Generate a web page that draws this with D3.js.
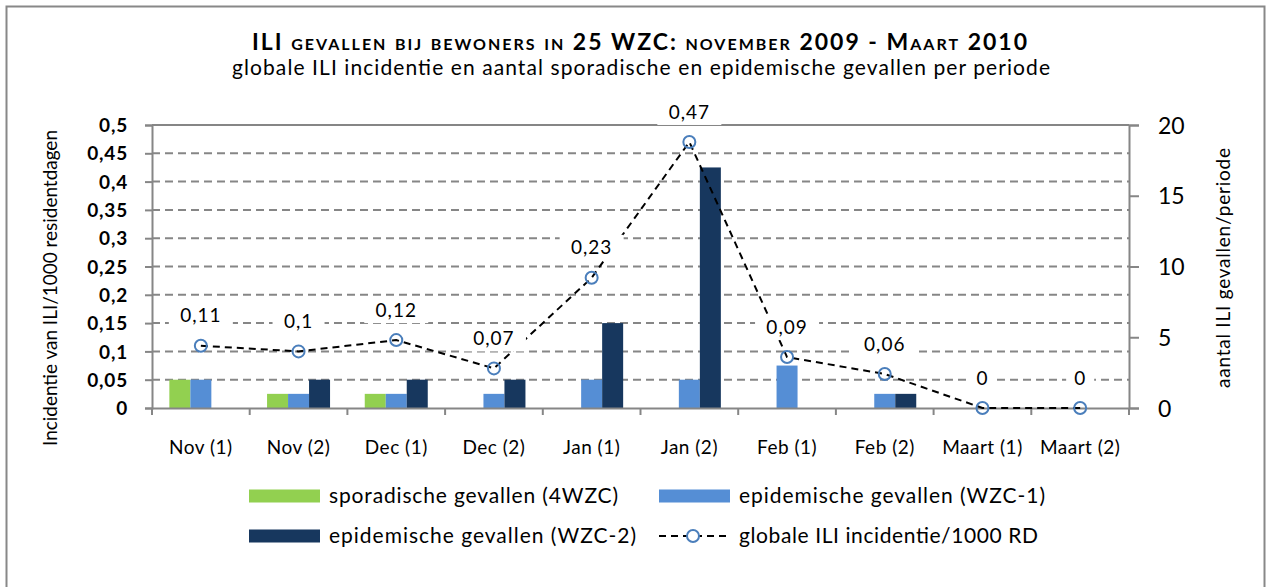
<!DOCTYPE html>
<html>
<head>
<meta charset="utf-8">
<script src="https://cdn.jsdelivr.net/npm/d3@7"></script>
<style>
  body { margin: 0; background: #fff; }
  text { font-family: Lato, "Open Sans", sans-serif; fill: #000; }
</style>
</head>
<body>
<div id="chart"></div>
<script>
const categories = ["Nov (1)", "Nov (2)", "Dec (1)", "Dec (2)", "Jan (1)", "Jan (2)", "Feb (1)", "Feb (2)", "Maart (1)", "Maart (2)"];
const sporadisch = [2, 1, 1, 0, 0, 0, 0, 0, 0, 0];
const epidemisch1 = [2, 1, 1, 1, 2, 2, 3, 1, 0, 0];
const epidemisch2 = [0, 2, 2, 2, 6, 17, 0, 1, 0, 0];
const incidentie = [0.11, 0.1, 0.12, 0.07, 0.23, 0.47, 0.09, 0.06, 0, 0];
const leftTicks = [0, 0.05, 0.1, 0.15, 0.2, 0.25, 0.3, 0.35, 0.4, 0.45, 0.5];
const rightTicks = [0, 5, 10, 15, 20];

const width = 1267, height = 587;
const m = { left: 152, right: 1129, top: 125, bottom: 408 };
const comma = d => String(d).replace(".", ",");
const grey = "#868686";

const svg = d3.select("#chart").append("svg")
    .attr("width", width)
    .attr("height", height);

// outer frame
svg.append("rect")
    .attr("x", 6.5).attr("y", 6.5)
    .attr("width", 1258).attr("height", 600)
    .attr("fill", "none")
    .attr("stroke", "#888")
    .attr("stroke-width", 2);

const x = d3.scaleBand().domain(categories).range([m.left, m.right]);
const yL = d3.scaleLinear().domain([0, 0.5]).range([m.bottom, m.top]);
const yR = d3.scaleLinear().domain([0, 20]).range([m.bottom, m.top]);

// gridlines (dashed)
svg.append("g")
    .selectAll("line")
    .data(leftTicks.filter(t => t > 0 && t < 0.5))
    .join("line")
    .attr("x1", m.left).attr("x2", m.right)
    .attr("y1", d => yL(d)).attr("y2", d => yL(d))
    .attr("stroke", grey)
    .attr("stroke-width", 2)
    .attr("stroke-dasharray", "8,5");

// top border of plot area
svg.append("line")
    .attr("x1", m.left).attr("x2", m.right)
    .attr("y1", m.top).attr("y2", m.top)
    .attr("stroke", grey).attr("stroke-width", 2);

// bars
const series = [
    { key: "sporadische gevallen (4WZC)", values: sporadisch, color: "#92D050" },
    { key: "epidemische gevallen (WZC-1)", values: epidemisch1, color: "#558ED5" },
    { key: "epidemische gevallen (WZC-2)", values: epidemisch2, color: "#17375E" }
];
const barW = 21;
const inner = d3.scaleBand().domain(d3.range(3)).range([-barW * 1.5, barW * 1.5]);

series.forEach((s, si) => {
    svg.append("g")
        .selectAll("rect")
        .data(s.values.map((v, i) => ({ v, c: categories[i] })))
        .join("rect")
        .attr("x", d => x(d.c) + x.bandwidth() / 2 + inner(si))
        .attr("y", d => yR(d.v))
        .attr("width", inner.bandwidth())
        .attr("height", d => m.bottom - yR(d.v))
        .attr("fill", s.color);
});

// axes
const axisLeft = svg.append("g")
    .attr("transform", `translate(${m.left},0)`)
    .call(d3.axisLeft(yL).tickValues(leftTicks).tickFormat(comma).tickSize(7).tickPadding(17));
axisLeft.selectAll("text")
    .attr("font-size", 19).attr("font-weight", "bold")
    .attr("letter-spacing", 0.8).attr("dy", "0.35em");

const axisRight = svg.append("g")
    .attr("transform", `translate(${m.right},0)`)
    .call(d3.axisRight(yR).tickValues(rightTicks).tickSize(10).tickPadding(19));
axisRight.selectAll("text").attr("font-size", 23).attr("dy", "0.35em");

const axisBottom = svg.append("g")
    .attr("transform", `translate(0,${m.bottom})`)
    .call(d3.axisBottom(x).tickSize(0).tickPadding(33));
axisBottom.selectAll("text").attr("font-size", 19).attr("letter-spacing", 0.5);

// category separator ticks
svg.append("g")
    .selectAll("line")
    .data(d3.range(categories.length + 1))
    .join("line")
    .attr("x1", i => m.left + i * x.step()).attr("x2", i => m.left + i * x.step())
    .attr("y1", m.bottom).attr("y2", m.bottom + 7)
    .attr("stroke", grey).attr("stroke-width", 2);

[axisLeft, axisRight, axisBottom].forEach(a => {
    a.select(".domain").attr("stroke", grey).attr("stroke-width", 2);
    a.selectAll(".tick line").attr("stroke", grey).attr("stroke-width", 2);
});

// incidence line
const pts = incidentie.map((v, i) => ({ v, c: categories[i] }));
const line = d3.line()
    .x(d => x(d.c) + x.bandwidth() / 2)
    .y(d => yL(d.v));

svg.append("path")
    .datum(pts)
    .attr("d", line)
    .attr("fill", "none")
    .attr("stroke", "#000")
    .attr("stroke-width", 2)
    .attr("stroke-dasharray", "7,5");

svg.append("g")
    .selectAll("circle")
    .data(pts)
    .join("circle")
    .attr("cx", d => x(d.c) + x.bandwidth() / 2)
    .attr("cy", d => yL(d.v))
    .attr("r", 6)
    .attr("fill", "none")
    .attr("stroke", "#4A7EBB")
    .attr("stroke-width", 2);

// data labels with white background
const lbl = svg.append("g")
    .selectAll("g")
    .data(pts)
    .join("g")
    .attr("transform", d => `translate(${x(d.c) + x.bandwidth() / 2},${yL(d.v) - 30})`);
lbl.append("rect")
    .attr("x", d => -comma(d.v).length * 6 - 8)
    .attr("y", -13)
    .attr("width", d => comma(d.v).length * 12 + 16)
    .attr("height", 26)
    .attr("fill", "#fff");
lbl.append("text")
    .attr("text-anchor", "middle")
    .attr("dy", "0.35em")
    .attr("font-size", 19)
    .attr("letter-spacing", 1)
    .text(d => comma(d.v));

// titles
svg.append("text")
    .attr("x", 252).attr("y", 50)
    .attr("font-size", 23)
    .attr("font-weight", "bold")
    .attr("textLength", 775)
    .style("font-variant", "small-caps")
    .text("ILI gevallen bij bewoners  in 25 WZC: november 2009 - Maart 2010");

svg.append("text")
    .attr("x", 232).attr("y", 75)
    .attr("font-size", 21)
    .attr("textLength", 818)
    .text("globale ILI incidentie en aantal sporadische en epidemische gevallen per periode");

svg.append("text")
    .attr("transform", `translate(57,288) rotate(-90)`)
    .attr("text-anchor", "middle")
    .attr("font-size", 19)
    .attr("textLength", 316)
    .text("Incidentie van ILI/1000 residentdagen");

svg.append("text")
    .attr("transform", `translate(1230,268) rotate(-90)`)
    .attr("text-anchor", "middle")
    .attr("font-size", 19)
    .attr("textLength", 240)
    .text("aantal ILI gevallen/periode");

// legend
const legendItems = [
    { label: series[0].key, color: series[0].color, x: 249, y: 496, w: 289 },
    { label: series[1].key, color: series[1].color, x: 659, y: 496, w: 306 },
    { label: series[2].key, color: series[2].color, x: 249, y: 536, w: 307 },
    { label: "globale ILI incidentie/1000 RD", line: true, x: 659, y: 536, w: 299 }
];
const lg = svg.append("g")
    .selectAll("g")
    .data(legendItems)
    .join("g")
    .attr("transform", d => `translate(${d.x},${d.y})`);
lg.filter(d => !d.line).append("rect")
    .attr("x", 0).attr("y", -6.5)
    .attr("width", 71).attr("height", 13)
    .attr("fill", d => d.color);
const ll = lg.filter(d => d.line);
ll.append("line")
    .attr("x1", 0).attr("x2", 71)
    .attr("stroke", "#000").attr("stroke-width", 2)
    .attr("stroke-dasharray", "7,5");
ll.append("circle")
    .attr("cx", 34).attr("r", 6)
    .attr("fill", "#fff").attr("stroke", "#4A7EBB").attr("stroke-width", 2);
lg.append("text")
    .attr("x", 80)
    .attr("dy", "0.35em")
    .attr("font-size", 21)
    .attr("textLength", d => d.w)
    .text(d => d.label);
</script>
</body>
</html>
